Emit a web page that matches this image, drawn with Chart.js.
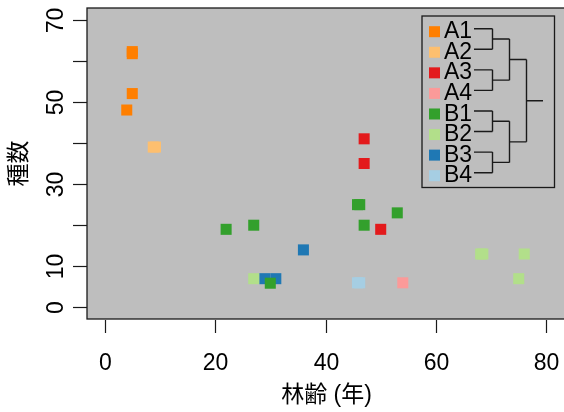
<!DOCTYPE html>
<html>
<head>
<meta charset="utf-8">
<script src="https://cdn.jsdelivr.net/npm/chart.js@4"></script>
<style>
  html, body { margin: 0; padding: 0; background: #fff; }
  canvas { display: block; }
</style>
</head>
<body>
<canvas id="plot" width="564" height="412"></canvas>
<script>
"use strict";

// groups shown in the legend / dendrogram
const groups = ['A1', 'A2', 'A3', 'A4', 'B1', 'B2', 'B3', 'B4'];
const colors = ['#FF7F00', '#FDBF6F', '#E31A1C', '#FB9A99', '#33A02C', '#B2DF8A', '#1F78B4', '#A6CEE3'];

// stand age (years) and species count per group
const a1Age = [5, 5, 5, 4];
const a1Spp = [62.2, 61.7, 52, 48];
const a2Age = [8.8, 9.2];
const a2Spp = [39, 39];
const a3Age = [47, 47, 50];
const a3Spp = [41, 35, 19];
const a4Age = [54];
const a4Spp = [6];
const b1Age = [22, 27, 30, 45.8, 46.2, 47, 53];
const b1Spp = [19, 20, 5.9, 25, 25, 20, 23];
const b2Age = [27, 68.1, 68.5, 76, 75];
const b2Spp = [7, 13, 13, 13, 7];
const b3Age = [29, 31, 36];
const b3Spp = [7, 7, 14];
const b4Age = [45.8, 46.2];
const b4Spp = [6, 6];

// axis ticks
const xTicks = [0, 20, 40, 60, 80];
const xTickLabels = ['0', '20', '40', '60', '80'];
const yTicks = [0, 10, 20, 30, 40, 50, 60, 70];
const yTickLabels = ['0', '10', '', '30', '', '50', '', '70'];
const xTitle = '林齢 (年)';
const yTitle = '種数';

const ages = [a1Age, a2Age, a3Age, a4Age, b1Age, b2Age, b3Age, b4Age];
const spps = [a1Spp, a2Spp, a3Spp, a4Spp, b1Spp, b2Spp, b3Spp, b4Spp];

const FONT = '"Liberation Sans", Arial, "Noto Sans CJK JP", sans-serif';
const INK = '#1a1a1a';

const datasets = groups.map((g, i) => ({
    label: g,
    data: ages[i].map((x, k) => ({ x: x, y: spps[i][k] })),
    backgroundColor: colors[i],
    borderWidth: 0,
    pointStyle: 'rect',
    pointRadius: 7.8,
    pointHoverRadius: 7.8
}));

// grey panel behind the points
const panelBg = {
    id: 'panelBg',
    beforeDatasetsDraw(chart) {
        const a = chart.chartArea;
        const ctx = chart.ctx;
        ctx.save();
        ctx.fillStyle = '#BEBEBE';
        ctx.fillRect(a.left, a.top, a.right - a.left + 2, a.bottom - a.top);
        ctx.restore();
    }
};

// R-like axes, box and titles
const rAxes = {
    id: 'rAxes',
    afterDraw(chart) {
        const ctx = chart.ctx;
        const a = chart.chartArea;
        const xs = chart.scales.x, ys = chart.scales.y;
        ctx.save();
        ctx.strokeStyle = INK;
        ctx.fillStyle = '#000';
        ctx.lineWidth = 1.3;
        ctx.strokeRect(a.left, a.top, a.right - a.left + 10, a.bottom - a.top);

        ctx.lineWidth = 1.2;
        ctx.font = '23px ' + FONT;
        ctx.textAlign = 'center';
        ctx.textBaseline = 'alphabetic';
        xTicks.forEach((v, i) => {
            const px = Math.round(xs.getPixelForValue(v)) + 0.5;
            ctx.beginPath();
            ctx.moveTo(px, a.bottom + 1);
            ctx.lineTo(px, a.bottom + 14);
            ctx.stroke();
            ctx.fillText(xTickLabels[i], px, 370);
        });

        yTicks.forEach((v, i) => {
            const py = Math.round(ys.getPixelForValue(v)) + 0.5;
            ctx.beginPath();
            ctx.moveTo(a.left - 14, py);
            ctx.lineTo(a.left, py);
            ctx.stroke();
            if (yTickLabels[i]) {
                ctx.save();
                ctx.translate(63, py);
                ctx.rotate(-Math.PI / 2);
                ctx.fillText(yTickLabels[i], 0, 0);
                ctx.restore();
            }
        });

        ctx.font = '23px ' + FONT;
        ctx.textBaseline = 'middle';
        ctx.fillText(xTitle, (a.left + 564) / 2 + 1, 396);
        ctx.save();
        ctx.translate(20, (a.top + a.bottom) / 2);
        ctx.rotate(-Math.PI / 2);
        ctx.fillText(yTitle, 0, 0);
        ctx.restore();
        ctx.restore();
    }
};

// legend box with a dendrogram of the groups
const dendroLegend = {
    id: 'dendroLegend',
    afterDraw(chart) {
        const ctx = chart.ctx;
        const rowY = i => 31.7 + i * 20.57;
        const lineY = i => rowY(i) - 3;
        ctx.save();
        ctx.fillStyle = '#BEBEBE';
        ctx.fillRect(422, 16, 132, 171);
        ctx.strokeStyle = INK;
        ctx.lineWidth = 1.3;
        ctx.strokeRect(422, 16, 132.5, 171.5);

        ctx.font = '23px ' + FONT;
        ctx.textAlign = 'left';
        ctx.textBaseline = 'alphabetic';
        groups.forEach((g, i) => {
            const y = rowY(i);
            ctx.fillStyle = colors[i];
            ctx.fillRect(429, y - 5.5, 11, 11);
            ctx.fillStyle = '#000';
            ctx.fillText(g, 444, y + 6.6);
        });

        const x0 = 474, x1 = 492.5, x2 = 509.5, x3 = 526.5, x4 = 543;
        ctx.lineWidth = 1.4;
        ctx.beginPath();
        // leaves
        groups.forEach((g, i) => {
            ctx.moveTo(x0, lineY(i));
            ctx.lineTo(x1, lineY(i));
        });
        // pairs
        const pairMid = [];
        for (let p = 0; p < 4; p++) {
            const ya = lineY(2 * p), yb = lineY(2 * p + 1);
            ctx.moveTo(x1, ya); ctx.lineTo(x1, yb);
            const m = (ya + yb) / 2;
            ctx.moveTo(x1, m); ctx.lineTo(x2, m);
            pairMid.push(m);
        }
        // clusters A and B
        const clusterMid = [];
        for (let c = 0; c < 2; c++) {
            const ya = pairMid[2 * c], yb = pairMid[2 * c + 1];
            ctx.moveTo(x2, ya); ctx.lineTo(x2, yb);
            const m = (ya + yb) / 2;
            ctx.moveTo(x2, m); ctx.lineTo(x3, m);
            clusterMid.push(m);
        }
        // root
        ctx.moveTo(x3, clusterMid[0]); ctx.lineTo(x3, clusterMid[1]);
        const root = (clusterMid[0] + clusterMid[1]) / 2;
        ctx.moveTo(x3, root); ctx.lineTo(x4, root);
        ctx.stroke();
        ctx.restore();
    }
};

new Chart(document.getElementById('plot'), {
    type: 'scatter',
    data: { datasets },
    options: {
        responsive: false,
        animation: false,
        layout: { autoPadding: false, padding: { left: 87, top: 8, right: 0, bottom: 93 } },
        scales: {
            x: { type: 'linear', min: -3.2, max: 83.2, display: false },
            y: { type: 'linear', min: -2.8, max: 72.8, display: false }
        },
        plugins: {
            legend: { display: false },
            tooltip: { enabled: false }
        }
    },
    plugins: [panelBg, rAxes, dendroLegend]
});
</script>
</body>
</html>
